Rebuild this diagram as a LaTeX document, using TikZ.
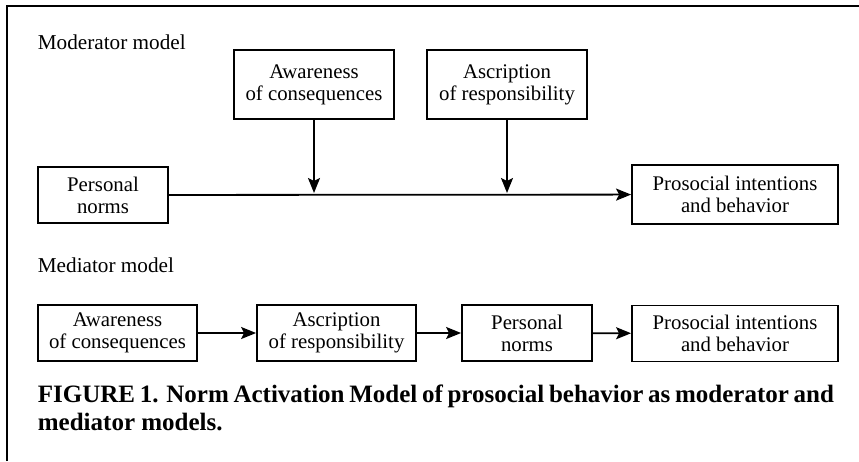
\documentclass[tikz,border=0pt]{standalone}
\usepackage{fontspec}
\setmainfont{Liberation Serif}
\usetikzlibrary{arrows.meta}
\begin{document}
\begin{tikzpicture}[x=1pt,y=-1pt,line width=1.8pt,
  font=\fontsize{20.8}{22}\selectfont]
  \tikzstyle{box}=[draw,align=center,inner sep=0pt,minimum height=56pt]
  \tikzstyle{title}=[anchor=base west,inner sep=0pt,font=\fontsize{21.2}{24}\selectfont]
  \tikzstyle{arr}=[-{Stealth[length=15pt,width=12pt,inset=3pt]}]
  \useasboundingbox (0,0) rectangle (859,461);
  % frame
  \draw[line width=2.2pt] (7,461) -- (7,6) -- (859,6);
  % moderator model
  \node[title] (modtitle) at (37,49) {Moderator model};
  \node[box,minimum width=160pt,minimum height=69pt] (modAC) at (314,84.5) {Awareness\\of consequences};
  \node[box,minimum width=160pt,minimum height=69pt] (modAR) at (507,84.5) {Ascription\\of responsibility};
  \node[box,minimum width=130pt] (modPN) at (103,195) {Personal\\norms};
  \node[box,minimum width=206pt,minimum height=59pt] (modPI) at (735,194.5) {Prosocial intentions\\and behavior};
  \draw[arr] (modPN) -- (modPI);
  \draw[arr,shorten >=2pt] (modAC) -- (modAC |- modPN.east);
  \draw[arr,shorten >=2pt] (modAR) -- (modAR |- modPN.east);
  % mediator model
  \node[title] (medtitle) at (37,272) {Mediator model};
  \node[box,minimum width=159pt] (medAC) at (117.5,333) {Awareness\\of consequences};
  \node[box,minimum width=159pt] (medAR) at (336.5,333) {Ascription\\of responsibility};
  \node[box,minimum width=130pt] (medPN) at (527,333) {Personal\\norms};
  \node[box,minimum width=206pt] (medPI) at (735,333.5) {Prosocial intentions\\and behavior};
  \draw[arr] (medAC) -- (medAR);
  \draw[arr] (medAR) -- (medPN);
  \draw[arr] (medPN) -- (medPI);
  % caption
  \node[anchor=north west,inner sep=0pt,text width=796pt,align=justify,
    font=\fontsize{25}{28}\selectfont\bfseries] (caption) at (37,384)
    {FIGURE 1. Norm Activation Model of prosocial behavior as moderator and mediator models.};
\end{tikzpicture}
\end{document}
